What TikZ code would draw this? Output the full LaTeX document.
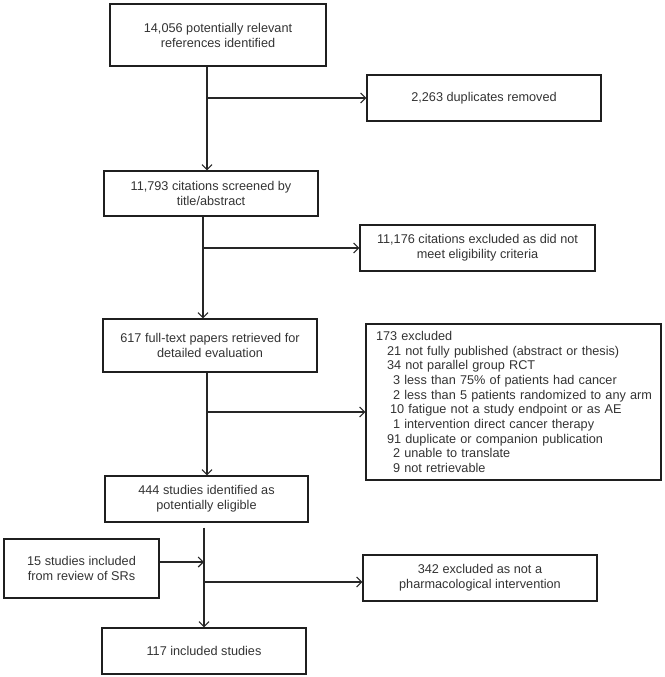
\documentclass[tikz,border=0pt]{standalone}
\usepackage{fontspec}
\setmainfont{Liberation Sans}
\usetikzlibrary{arrows.meta}
\begin{document}
\begin{tikzpicture}[x=1pt,y=-1pt,
  box/.style={draw=black!88, line width=1.3pt, text=black!80, inner sep=0pt, align=center,
              font=\fontsize{12.7}{15}\selectfont},
  arr/.style={line width=1.1pt, draw=black!85,
              -{Straight Barb[length=5pt,width=10pt,line width=1.1pt]}}]
\useasboundingbox (0,0) rectangle (664,677);
% boxes
\node[box, minimum width=216, minimum height=62] (b1) at (218,35)
  {14,056 potentially relevant\\references identified};
\node[box, minimum width=234, minimum height=46] (b2) at (484,98)
  {2,263 duplicates removed};
\node[box, minimum width=214, minimum height=45] (b3) at (211,193.5)
  {11,793 citations screened by\\title/abstract};
\node[box, minimum width=235, minimum height=46] (b4) at (477.5,248)
  {11,176 citations excluded as did not\\meet eligibility criteria};
\node[box, minimum width=214, minimum height=53] (b5) at (210,345.5)
  {617 full-text papers retrieved for\\detailed evaluation};
\node[box, minimum width=295, minimum height=156, align=left, inner xsep=2pt,
      text width=291pt, font=\fontsize{12.7}{14.7}\selectfont] (b6) at (513.5,402)
  {\hspace*{8pt}173 excluded\\
   \hspace*{19pt}21 not fully published (abstract or thesis)\\
   \hspace*{19pt}34 not parallel group RCT\\
   \hspace*{25pt}3 less than 75\% of patients had cancer\\
   \hspace*{25pt}2 less than 5 patients randomized to any arm\\
   \hspace*{22pt}10 fatigue not a study endpoint or as AE\\
   \hspace*{25pt}1 intervention direct cancer therapy\\
   \hspace*{19pt}91 duplicate or companion publication\\
   \hspace*{25pt}2 unable to translate\\
   \hspace*{25pt}9 not retrievable};
\node[box, minimum width=203, minimum height=46] (b7) at (206.5,499)
  {444 studies identified as\\potentially eligible};
\node[box, minimum width=155, minimum height=59] (b8) at (81.5,568.5)
  {15 studies included\\from review of SRs};
\node[box, minimum width=234, minimum height=46] (b9) at (480,578)
  {342 excluded as not a\\pharmacological intervention};
\node[box, minimum width=204, minimum height=46] (b10) at (204,651)
  {117 included studies};
% trunk positions
\coordinate (t1) at (207,0);
\coordinate (t2) at (203,0);
\coordinate (t3) at (207,0);
\coordinate (t4) at (204,0);
\coordinate (c6) at (0,412);
\coordinate (c8) at (0,562);
\coordinate (c9) at (0,582);
% connectors
\draw[arr] (b1.south -| t1) -- (b3.north -| t1);
\draw[arr] (t1 |- b2.west) -- (b2.west);
\draw[arr] (b3.south -| t2) -- (b5.north -| t2);
\draw[arr] (t2 |- b4.west) -- (b4.west);
\draw[arr] (b5.south -| t3) -- (b7.north -| t3);
\draw[arr] (t3 |- c6) -- (b6.west |- c6);
\draw[arr] ([yshift=-5pt]b7.south -| t4) -- (b10.north -| t4);
\draw[arr] (b8.east |- c8) -- (t4 |- c8);
\draw[arr] (t4 |- c9) -- (b9.west |- c9);
\end{tikzpicture}
\end{document}
